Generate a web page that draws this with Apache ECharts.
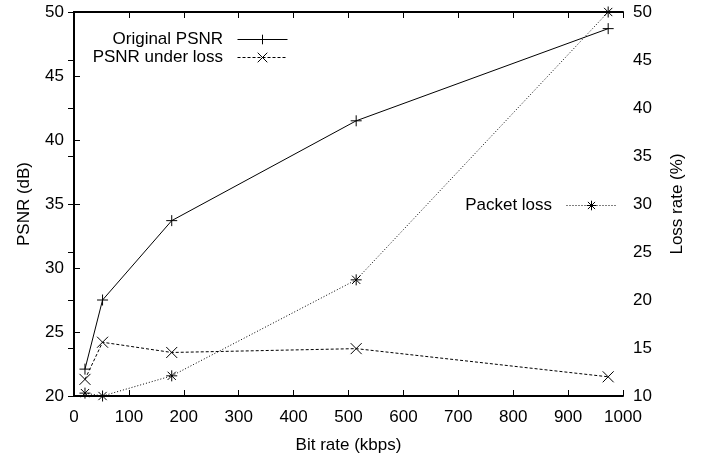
<!DOCTYPE html>
<html>
<head>
<meta charset="utf-8">
<script src="https://cdn.jsdelivr.net/npm/echarts@6/dist/echarts.min.js"></script>
<style>
html,body{margin:0;padding:0;background:#fff;}
#c{width:705px;height:454px;}
</style>
</head>
<body>
<div id="c"></div>
<script>
// Data
const bitRates = [20, 52, 178, 514, 973];
const originalPSNR = [22.1, 27.5, 33.7, 41.5, 48.7];
const psnrUnderLoss = [21.3, 24.2, 23.4, 23.7, 21.5];
const packetLoss = [10.3, 10.0, 12.1, 22.1, 50.0];
const xTicks = [0, 1000, 100];
const leftTicks = [20, 50, 5];
const rightTicks = [10, 50, 5];

const FONT = 'Liberation Sans';
const FS = 17;

function pairs(xs, ys) { return xs.map((x, i) => [x, ys[i]]); }

const plusPath = 'path://M0,-1L0,1M-1,0L1,0';
const crossPath = 'path://M-1,-1L1,1M-1,1L1,-1';
const starPath = 'path://M0,-1L0,1M-1,0L1,0M-0.75,-0.75L0.75,0.75M-0.75,0.75L0.75,-0.75';

const axisLine = { show: true, lineStyle: { color: '#000', width: 2 } };
const axisTick = { show: true, inside: true, length: 6, lineStyle: { color: '#000', width: 1 } };
const lbl = { color: '#000', fontFamily: FONT, fontSize: FS, formatter: v => String(v) };

function lineSeries(name, data, yIdx, type, symbol) {
  return {
    name, type: 'line', data, yAxisIndex: yIdx, xAxisIndex: 0,
    symbol, symbolSize: 11, showSymbol: true,
    lineStyle: { color: '#000', width: 1, type },
    itemStyle: { color: '#000', borderColor: '#000', borderWidth: 1 },
    emphasis: { disabled: true },
    animation: false
  };
}

const legendCommon = {
  orient: 'vertical', align: 'right', padding: 0,
  itemWidth: 50, itemHeight: 12, itemGap: 1,
  formatter: n => n + '  ',
  textStyle: { color: '#000', fontFamily: FONT, fontSize: FS },
  lineStyle: { width: 1 },
  itemStyle: { borderWidth: 1 },
  selectedMode: false
};

const chart = echarts.init(document.getElementById('c'), null, { renderer: 'canvas' });
chart.setOption({
  animation: false,
  backgroundColor: '#fff',
  textStyle: { fontFamily: FONT },
  grid: { left: 74, right: 82, top: 12, bottom: 58, show: false, containLabel: false, outerBoundsMode: 'none' },
  legend: [
    Object.assign({}, legendCommon, {
      data: ['Original PSNR', 'PSNR under loss'],
      right: 417, top: 31
    }),
    Object.assign({}, legendCommon, {
      data: ['Packet loss'],
      right: 88, top: 197
    })
  ],
  xAxis: [
    {
      type: 'value', min: xTicks[0], max: xTicks[1], interval: xTicks[2],
      position: 'bottom',
      name: 'Bit rate (kbps)', nameLocation: 'middle', nameGap: 41,
      nameTextStyle: { color: '#000', fontFamily: FONT, fontSize: FS },
      axisLine, axisTick, splitLine: { show: false },
      axisLabel: Object.assign({ margin: 13 }, lbl)
    },
    {
      type: 'value', min: xTicks[0], max: xTicks[1], interval: xTicks[2],
      position: 'top',
      axisLine, axisTick, splitLine: { show: false },
      axisLabel: { show: false }
    }
  ],
  yAxis: [
    {
      type: 'value', min: leftTicks[0], max: leftTicks[1], interval: leftTicks[2],
      position: 'left',
      name: 'PSNR (dB)', nameLocation: 'middle', nameGap: 41,
      nameTextStyle: { color: '#000', fontFamily: FONT, fontSize: FS },
      axisLine, axisTick, splitLine: { show: false },
      axisLabel: Object.assign({ margin: 10 }, lbl)
    },
    {
      type: 'value', min: rightTicks[0], max: rightTicks[1], interval: rightTicks[2],
      position: 'right',
      name: 'Loss rate (%)', nameLocation: 'middle', nameGap: 46,
      nameTextStyle: { color: '#000', fontFamily: FONT, fontSize: FS },
      axisLine, axisTick, splitLine: { show: false },
      axisLabel: Object.assign({ margin: 10 }, lbl)
    }
  ],
  series: [
    lineSeries('Original PSNR', pairs(bitRates, originalPSNR), 0, 'solid', plusPath),
    lineSeries('PSNR under loss', pairs(bitRates, psnrUnderLoss), 0, [3, 2], crossPath),
    lineSeries('Packet loss', pairs(bitRates, packetLoss), 1, [1, 2], starPath)
  ]
});
</script>
</body>
</html>
